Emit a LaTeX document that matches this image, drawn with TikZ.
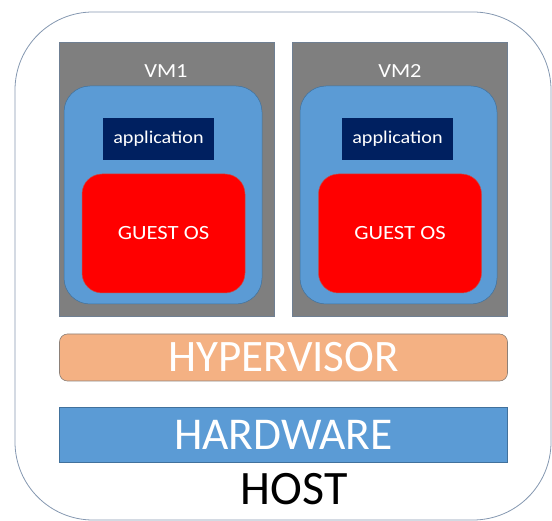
\documentclass[tikz,border=0pt]{standalone}
\usepackage{fontspec}
\setmainfont{Carlito}
\newfontfamily\widefont[FakeStretch=1.12]{Carlito}
\usepackage{xcolor}
\usepackage{tikz}
\definecolor{hostline}{HTML}{8497B0}
\definecolor{vmgray}{HTML}{7F7F7F}
\definecolor{vmline}{HTML}{6F7F92}
\definecolor{osblue}{HTML}{5B9BD5}
\definecolor{osline}{HTML}{41719C}
\definecolor{appnavy}{HTML}{002060}
\definecolor{guestred}{HTML}{FF0000}
\definecolor{guestline}{HTML}{C0504D}
\definecolor{hyperorange}{HTML}{F4B183}
\definecolor{hyperline}{HTML}{8C8078}
\tikzset{
  hostframe/.style={draw=hostline, line width=0.8pt, rounded corners=78pt},
  vmbox/.style={draw=vmline, fill=vmgray, line width=0.5pt, inner sep=0pt,
    minimum width=215pt, minimum height=274pt},
  vmlab/.style={text=white, font=\widefont\fontsize{20}{24}\selectfont, inner sep=0pt},
  osbox/.style={draw=osline, fill=osblue, line width=0.5pt, rounded corners=26pt},
  appbox/.style={fill=appnavy, text=white, inner sep=0pt,
    minimum width=111pt, minimum height=42pt, font=\widefont\fontsize{18}{22}\selectfont},
  guestbox/.style={draw=guestline, fill=guestred, text=white, line width=0.5pt,
    rounded corners=20pt, inner sep=0pt, minimum width=163pt, minimum height=119pt,
    font=\widefont\fontsize{20.2}{24}\selectfont},
  hyperbox/.style={draw=hyperline, fill=hyperorange, text=white, line width=0.6pt,
    rounded corners=8pt, inner sep=0pt, minimum width=448pt, minimum height=47pt,
    font=\fontsize{45}{48}\selectfont},
  hardbox/.style={draw=osline, fill=osblue, text=white, line width=0.6pt,
    inner sep=0pt, minimum width=448pt, minimum height=55pt,
    font=\fontsize{45.5}{48}\selectfont},
  hostlab/.style={text=black, inner sep=0pt, font=\fontsize{48}{52}\selectfont},
}
\begin{document}
\begin{tikzpicture}[x=1pt,y=-1pt]
  \useasboundingbox (0,0) rectangle (552,521);
  \draw[hostframe] (15,12) rectangle (551,520);

  % virtual machines
  \node[vmbox] (vmone) at (166.5,179.5) {};
  \node[vmbox] (vmtwo) at (400,179.5) {};
  \node[vmlab] (vmonelab) at (166,71.5) {VM1};
  \node[vmlab] (vmtwolab) at (400,71.5) {VM2};

  \draw[osbox] (64,86) rectangle (262,304);
  \draw[osbox] (300,86) rectangle (497,304);

  \node[appbox] (appone) at (158.5,139) {application};
  \node[appbox] (apptwo) at (397.5,139) {application};
  \node[guestbox] (guestone) at (163.5,233.5) {GUEST OS};
  \node[guestbox] (guesttwo) at (400,233.5) {GUEST OS};

  % host layers
  \node[hyperbox] (hyper) at (283.5,357.5) {HYPERVISOR};
  \node[hardbox] (hard) at (283.5,434.5) {HARDWARE};
  \node[hostlab] (hostlab) at (294,489.5) {HOST};
\end{tikzpicture}
\end{document}
